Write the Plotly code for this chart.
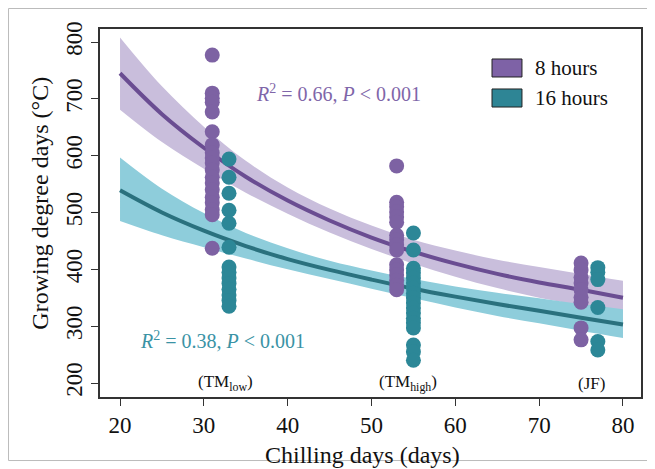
import plotly.graph_objects as go

# ---------------- data ----------------
series_names = ["8 hours", "16 hours"]

purple_x = [31, 53, 75]
teal_x = [33, 55, 77]

purple_31 = [777, 710, 701, 694, 677, 642, 619, 605, 596, 587, 575, 562, 552, 540, 527, 517, 505, 496, 437]
purple_53 = [582, 518, 510, 501, 492, 483, 460, 452, 443, 434, 408, 399, 390, 381, 372, 364]
purple_75 = [411, 399, 386, 376, 364, 351, 342, 297, 276]

teal_33 = [594, 562, 534, 504, 481, 439, 404, 395, 385, 375, 365, 355, 345, 335]
teal_55 = [464, 434, 402, 394, 385, 376, 367, 358, 350, 341, 332, 323, 314, 306, 297, 267, 255, 240]
teal_77 = [403, 395, 382, 333, 273, 258]

fit_x = [20, 25, 30, 35, 40, 45, 50, 55, 60, 65, 70, 75, 80]
purple_fit = [745, 673, 614, 563, 521, 486, 456, 431, 410, 392, 377, 364, 350]
purple_lo = [681, 624, 577, 535, 498, 465, 436, 410, 387, 367, 350, 336, 322]
purple_hi = [808, 722, 651, 591, 544, 507, 477, 452, 433, 417, 404, 392, 380]
teal_fit = [539, 500, 468, 441, 418, 399, 382, 366, 352, 339, 327, 315, 303]
teal_lo = [485, 460, 439, 419, 400, 383, 366, 349, 333, 318, 305, 292, 279]
teal_hi = [597, 542, 499, 464, 437, 415, 398, 383, 370, 359, 349, 339, 330]

site_labels = ["(TM<sub>low</sub>)", "(TM<sub>high</sub>)", "(JF)"]
site_x = [32.6, 54.4, 76.2]

stats_text = ["<i>R</i><sup>2</sup> = 0.66, <i>P</i> < 0.001",
              "<i>R</i><sup>2</sup> = 0.38, <i>P</i> < 0.001"]

x_ticks = [20, 30, 40, 50, 60, 70, 80]
y_ticks = [200, 300, 400, 500, 600, 700, 800]

# ---------------- style ----------------
PURPLE_PT = "#7D62A3"
PURPLE_LINE = "#6A4D92"
PURPLE_BAND = "#C9BEDC"
TEAL_PT = "#2C8797"
TEAL_LINE = "#2A717E"
TEAL_BAND = "#8ECDDB"
FONT = "Liberation Serif"
AX = "#333333"

fig = go.Figure()

for lo, hi, col in [(purple_lo, purple_hi, PURPLE_BAND), (teal_lo, teal_hi, TEAL_BAND)]:
    fig.add_trace(go.Scatter(x=fit_x, y=hi, mode="lines", line=dict(width=0, shape="spline"),
                             showlegend=False, hoverinfo="skip"))
    fig.add_trace(go.Scatter(x=fit_x, y=lo, mode="lines", line=dict(width=0, shape="spline"),
                             fill="tonexty", fillcolor=col, showlegend=False, hoverinfo="skip"))

fig.add_trace(go.Scatter(x=fit_x, y=purple_fit, mode="lines",
                         line=dict(color=PURPLE_LINE, width=4, shape="spline"), showlegend=False))
fig.add_trace(go.Scatter(x=fit_x, y=teal_fit, mode="lines",
                         line=dict(color=TEAL_LINE, width=4, shape="spline"), showlegend=False))


def pts(xs, groups):
    X, Y = [], []
    for xv, g in zip(xs, groups):
        X += [xv] * len(g)
        Y += g
    return X, Y


px_, py_ = pts(purple_x, [purple_31, purple_53, purple_75])
tx_, ty_ = pts(teal_x, [teal_33, teal_55, teal_77])
fig.add_trace(go.Scatter(x=px_, y=py_, mode="markers", name=series_names[0],
                         marker=dict(color=PURPLE_PT, size=15, line=dict(width=0)), showlegend=False))
fig.add_trace(go.Scatter(x=tx_, y=ty_, mode="markers", name=series_names[1],
                         marker=dict(color=TEAL_PT, size=15, line=dict(width=0)), showlegend=False))

ann = []
ann.append(dict(x=36.0, y=710, xref="x", yref="y", text=stats_text[0], showarrow=False,
                xanchor="left", yanchor="middle", font=dict(family=FONT, size=20, color="#7F66A9")))
ann.append(dict(x=22.1, y=276, xref="x", yref="y", text=stats_text[1], showarrow=False,
                xanchor="left", yanchor="middle", font=dict(family=FONT, size=20, color="#3A93A5")))
for sx, sl in zip(site_x, site_labels):
    ann.append(dict(x=sx, y=200, xref="x", yref="y", text=sl, showarrow=False,
                    xanchor="center", yanchor="middle", font=dict(family=FONT, size=17, color="#111")))
ann.append(dict(x=0.800, y=0.894, xref="paper", yref="paper", text=series_names[0], showarrow=False,
                xanchor="left", yanchor="middle", font=dict(family=FONT, size=21, color="#111")))
ann.append(dict(x=0.800, y=0.8125, xref="paper", yref="paper", text=series_names[1], showarrow=False,
                xanchor="left", yanchor="middle", font=dict(family=FONT, size=21, color="#111")))
ann.append(dict(x=0.485, y=-0.158, xref="paper", yref="paper", text="Chilling days (days)",
                showarrow=False, xanchor="center", yanchor="middle",
                font=dict(family=FONT, size=24, color="#111")))
ann.append(dict(x=-0.111, y=0.528, xref="paper", yref="paper", text="Growing degree days (°C)",
                showarrow=False, xanchor="center", yanchor="middle", textangle=-90,
                font=dict(family=FONT, size=24, color="#111")))

shapes = [
    dict(type="rect", xref="paper", yref="paper", x0=0.7246, x1=0.780, y0=0.8696, y1=0.9185,
         fillcolor="#7E62A6", line=dict(color="#222", width=1)),
    dict(type="rect", xref="paper", yref="paper", x0=0.7246, x1=0.780, y0=0.788, y1=0.837,
         fillcolor="#2E8595", line=dict(color="#222", width=1)),
    dict(type="rect", xref="paper", yref="paper", x0=-0.1691, x1=1.025, y0=-0.1726, y1=1.0557,
         line=dict(color="#bbbbbb", width=1), fillcolor="rgba(0,0,0,0)", layer="below"),
]

fig.update_layout(
    width=647, height=461,
    margin=dict(l=92, r=14, t=21, b=72),
    paper_bgcolor="white", plot_bgcolor="white",
    annotations=ann, shapes=shapes, showlegend=False,
    font=dict(family=FONT, color="#111"),
)
fig.update_xaxes(range=[17.61, 82.15], tickvals=x_ticks, ticks="outside", ticklen=7, tickwidth=1.3,
                 tickcolor=AX, showline=True, linecolor=AX, linewidth=1.5, mirror=True,
                 showgrid=False, zeroline=False, tickfont=dict(family=FONT, size=23, color="#111"))
fig.update_yaxes(range=[175.4, 822.9], tickvals=y_ticks, ticks="outside", ticklen=7, tickwidth=1.3,
                 tickcolor=AX, showline=True, linecolor=AX, linewidth=1.5, mirror=True,
                 showgrid=False, zeroline=False, tickangle=-90,
                 tickfont=dict(family=FONT, size=23, color="#111"))

fig.write_html("out.html")
